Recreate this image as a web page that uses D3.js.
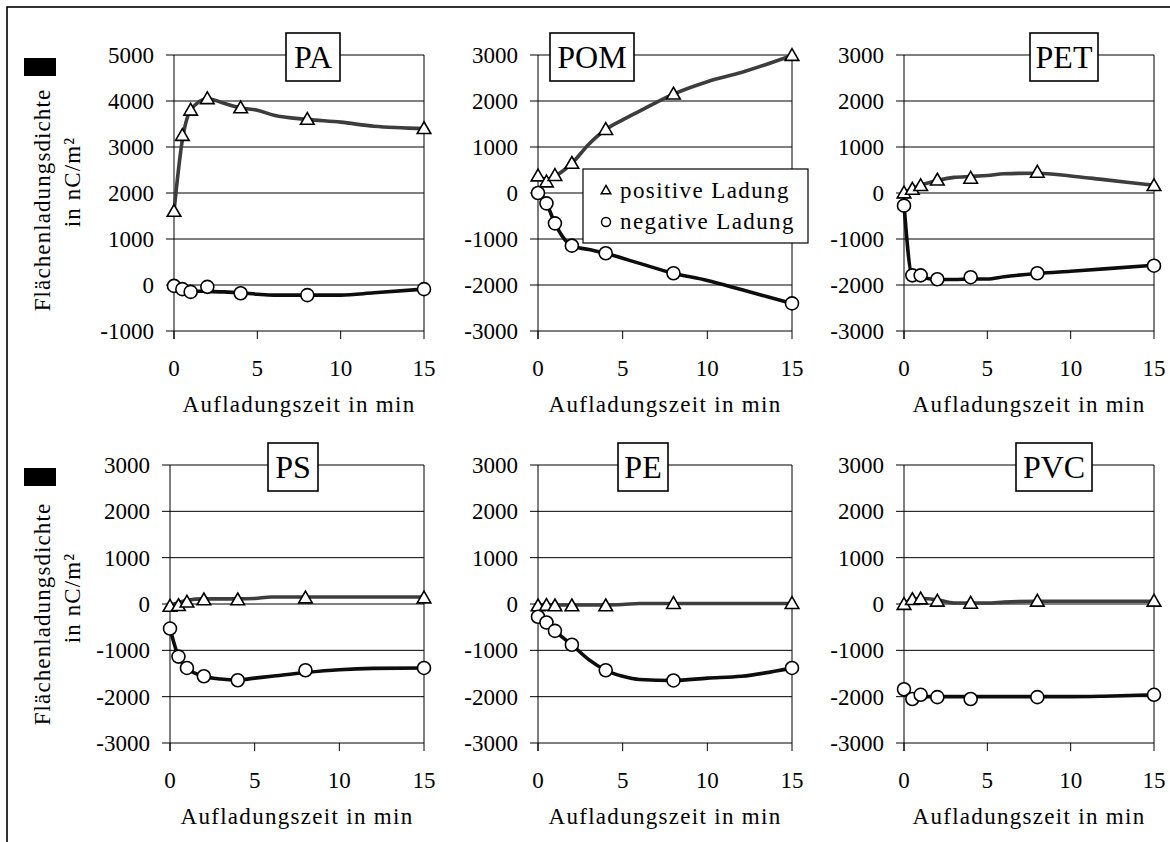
<!DOCTYPE html>
<html>
<head>
<meta charset="utf-8">
<script src="https://cdn.jsdelivr.net/npm/d3@7"></script>
<style>
  body { margin: 0; background: #fff; }
</style>
</head>
<body>
<svg id="chart" width="1170" height="842"></svg>
<script>
// Flächenladungsdichte vs. Aufladungszeit, six polymers

//// data ////
var materials = ["PA", "POM", "PET", "PS", "PE", "PVC"];
var markerTimes = [0, 0.5, 1, 2, 4, 8, 15];   // measured points (min)
var curveTimes = [0, 0.5, 1, 2, 3, 4, 5, 6, 8, 10, 12, 15]; // smoothed trend line
var xTicks = [0, 5, 10, 15];
var yTicksPA = [-1000, 0, 1000, 2000, 3000, 4000, 5000];
var yTicksOther = [-3000, -2000, -1000, 0, 1000, 2000, 3000];

// marker values, nC/m²
var posPA  = [1600, 3250, 3800, 4050, 3850, 3600, 3400];
var negPA  = [-20, -90, -150, -40, -180, -220, -90];
var posPOM = [370, 240, 380, 645, 1380, 2150, 2990];
var negPOM = [0, -225, -660, -1145, -1310, -1745, -2400];
var posPET = [0, 80, 160, 280, 320, 450, 160];
var negPET = [-275, -1790, -1790, -1875, -1830, -1745, -1580];
var posPS  = [-50, -35, 40, 90, 90, 130, 130];
var negPS  = [-530, -1135, -1380, -1560, -1645, -1430, -1380];
var posPE  = [-40, -30, -40, -40, -40, 10, 10];
var negPE  = [-275, -400, -580, -880, -1430, -1650, -1380];
var posPVC = [-10, 95, 110, 60, 15, 60, 60];
var negPVC = [-1840, -2050, -1960, -2010, -2050, -2010, -1960];

// trend lines (at curveTimes)
var curvePosPA  = [1600, 3150, 3800, 4050, 3950, 3850, 3800, 3690, 3600, 3540, 3450, 3400];
var curveNegPA  = [-20, -90, -130, -140, -150, -170, -200, -220, -220, -220, -170, -90];
var curvePosPOM = [370, 300, 370, 645, 1060, 1380, 1590, 1780, 2150, 2420, 2620, 2990];
var curveNegPOM = [0, -225, -660, -1145, -1230, -1310, -1420, -1530, -1745, -1900, -2100, -2400];
var curvePosPET = [0, 100, 170, 270, 340, 360, 380, 420, 430, 370, 290, 170];
var curveNegPET = [-250, -1800, -1830, -1880, -1880, -1870, -1870, -1820, -1750, -1700, -1650, -1570];
var curvePosPS  = [-30, 30, 80, 110, 110, 110, 120, 150, 150, 150, 150, 150];
var curveNegPS  = [-530, -1135, -1380, -1560, -1620, -1640, -1600, -1560, -1480, -1420, -1390, -1380];
var curvePosPE  = [-20, -20, -20, -20, -20, -20, -10, 10, 10, 10, 10, 10];
var curveNegPE  = [-275, -400, -580, -880, -1200, -1430, -1560, -1630, -1650, -1600, -1560, -1380];
var curvePosPVC = [0, 100, 120, 90, 20, 20, 20, 40, 60, 60, 60, 60];
var curveNegPVC = [-1900, -2000, -2000, -2000, -2000, -2000, -2000, -2000, -2000, -2000, -1990, -1960];

var legendLabels = ["positive Ladung", "negative Ladung"];
var xTitle = "Aufladungszeit in min";
var yTitle = ["Flächenladungsdichte", "in nC/m²"];

//// layout ////
var posMarkers = [posPA, posPOM, posPET, posPS, posPE, posPVC],
	negMarkers = [negPA, negPOM, negPET, negPS, negPE, negPVC],
	posCurves = [curvePosPA, curvePosPOM, curvePosPET, curvePosPS, curvePosPE, curvePosPVC],
	negCurves = [curveNegPA, curveNegPOM, curveNegPET, curveNegPS, curveNegPE, curveNegPVC];

var frames = [
	{x0: 174, x1: 424, y0: 55,  y1: 331, box: [286, 340]},
	{x0: 538, x1: 792, y0: 55,  y1: 331, box: [550, 634]},
	{x0: 904, x1: 1154, y0: 55, y1: 331, box: [1030, 1098]},
	{x0: 170, x1: 424, y0: 465, y1: 743, box: [268, 318]},
	{x0: 538, x1: 792, y0: 465, y1: 743, box: [618, 668]},
	{x0: 904, x1: 1154, y0: 465, y1: 743, box: [1016, 1092]}
];

var serif = '"Liberation Serif", "Times New Roman", serif';
var posColor = "#3d3d3d",
	negColor = "#0d0d0d",
	tickFont = 23,
	wordSpacing = 1.3;

var svg = d3.select("#chart").attr("font-family", serif);

//outer frame (right and bottom edges are cut off in the original)
svg.append("rect")
	.attr("x", 7).attr("y", 7)
	.attr("width", 1200).attr("height", 900)
	.attr("fill", "none")
	.attr("stroke", "#000")
	.attr("stroke-width", 1.6);

//black marks and y titles, one per row
[{rectY: 58, l1: 200, l2: 182}, {rectY: 468, l1: 614, l2: 598}].forEach(function(r) {
	svg.append("rect")
		.attr("x", 24).attr("y", r.rectY)
		.attr("width", 32).attr("height", 18)
		.attr("fill", "#000");
	svg.append("text")
		.attr("transform", "translate(42," + r.l1 + ") rotate(-90)")
		.attr("text-anchor", "middle")
		.attr("dy", "0.35em")
		.style("font-family", serif)
		.style("font-size", tickFont + "px")
		.style("letter-spacing", "1.1px")
		.text(yTitle[0]);
	svg.append("text")
		.attr("transform", "translate(72," + r.l2 + ") rotate(-90)")
		.attr("text-anchor", "middle")
		.attr("dy", "0.35em")
		.style("font-family", serif)
		.style("font-size", tickFont + "px")
		.style("letter-spacing", "1.1px")
		.text(yTitle[1]);
});

var triangle = d3.symbol().type(d3.symbolTriangle).size(80),
	triangleSmall = d3.symbol().type(d3.symbolTriangle).size(40);

materials.forEach(function(name, i) {
	var f = frames[i];
	var yTicks = i === 0 ? yTicksPA : yTicksOther;

	var x = d3.scaleLinear().domain([0, 15]).range([f.x0, f.x1]);
	var y = d3.scaleLinear().domain(d3.extent(yTicks)).range([f.y1, f.y0]);

	var g = svg.append("g").attr("class", "panel");

	//horizontal gridlines + outside ticks
	g.selectAll(".grid")
		.data(yTicks)
		.enter().append("line")
		.attr("x1", f.x0 - 8).attr("x2", f.x1)
		.attr("y1", function(d) { return y(d); })
		.attr("y2", function(d) { return y(d); })
		.attr("stroke", "#000")
		.attr("stroke-width", 1);

	g.selectAll(".ylab")
		.data(yTicks)
		.enter().append("text")
		.attr("x", f.x0 - 20)
		.attr("y", function(d) { return y(d); })
		.attr("dy", "0.35em")
		.attr("text-anchor", "end")
		.style("font-family", serif)
		.style("font-size", tickFont + "px")
		.text(function(d) { return d; });

	//left axis and right border
	g.append("line")
		.attr("x1", f.x0).attr("x2", f.x0)
		.attr("y1", f.y0).attr("y2", f.y1 + 8)
		.attr("stroke", "#000");
	g.append("line")
		.attr("x1", f.x1).attr("x2", f.x1)
		.attr("y1", f.y0).attr("y2", f.y1)
		.attr("stroke", "#000");

	g.selectAll(".xtick")
		.data(xTicks)
		.enter().append("line")
		.attr("x1", function(d) { return x(d); })
		.attr("x2", function(d) { return x(d); })
		.attr("y1", f.y1).attr("y2", f.y1 + 8)
		.attr("stroke", "#000");

	g.selectAll(".xlab")
		.data(xTicks)
		.enter().append("text")
		.attr("x", function(d) { return x(d); })
		.attr("y", f.y1 + 37)
		.attr("dy", "0.35em")
		.attr("text-anchor", "middle")
		.style("font-family", serif)
		.style("font-size", tickFont + "px")
		.text(function(d) { return d; });

	g.append("text")
		.attr("x", (f.x0 + f.x1) / 2)
		.attr("y", f.y1 + 73)
		.attr("dy", "0.35em")
		.attr("text-anchor", "middle")
		.style("font-family", serif)
		.style("font-size", tickFont + "px")
		.style("letter-spacing", wordSpacing + "px")
		.text(xTitle);

	//trend lines
	var line = d3.line()
		.x(function(d, k) { return x(curveTimes[k]); })
		.y(function(d) { return y(d); })
		.curve(d3.curveMonotoneX);

	g.append("path")
		.attr("d", line(posCurves[i]))
		.attr("fill", "none")
		.attr("stroke", posColor)
		.attr("stroke-width", 3.6)
		.attr("stroke-linejoin", "round");
	g.append("path")
		.attr("d", line(negCurves[i]))
		.attr("fill", "none")
		.attr("stroke", negColor)
		.attr("stroke-width", 3.6)
		.attr("stroke-linejoin", "round");

	//markers
	g.selectAll(".tri")
		.data(posMarkers[i])
		.enter().append("path")
		.attr("d", triangle)
		.attr("transform", function(d, k) { return "translate(" + x(markerTimes[k]) + "," + (y(d) + 1) + ")"; })
		.attr("fill", "#fff")
		.attr("stroke", "#000")
		.attr("stroke-width", 1.6);

	g.selectAll(".circ")
		.data(negMarkers[i])
		.enter().append("circle")
		.attr("cx", function(d, k) { return x(markerTimes[k]); })
		.attr("cy", function(d) { return y(d); })
		.attr("r", 6.5)
		.attr("fill", "#fff")
		.attr("stroke", "#000")
		.attr("stroke-width", 1.6);

	//title box
	var by0 = f.y0 - 22, by1 = f.y0 + 26;
	g.append("rect")
		.attr("x", f.box[0]).attr("y", by0)
		.attr("width", f.box[1] - f.box[0]).attr("height", by1 - by0)
		.attr("fill", "#fff")
		.attr("stroke", "#000")
		.attr("stroke-width", 1.6);
	g.append("text")
		.attr("x", (f.box[0] + f.box[1]) / 2)
		.attr("y", (by0 + by1) / 2)
		.attr("dy", "0.35em")
		.attr("text-anchor", "middle")
		.style("font-family", serif)
		.style("font-size", "32px")
		.text(name);
});

//legend inside POM panel
var legend = svg.append("g").attr("class", "legend");
legend.append("rect")
	.attr("x", 583).attr("y", 169)
	.attr("width", 225).attr("height", 74)
	.attr("fill", "#fff")
	.attr("stroke", "#000")
	.attr("stroke-width", 1.2);

legend.selectAll(".item")
	.data(legendLabels)
	.enter().append("text")
	.attr("x", 620)
	.attr("y", function(d, i) { return 190 + i * 31; })
	.attr("dy", "0.35em")
	.style("font-family", serif)
	.style("font-size", tickFont + "px")
	.style("letter-spacing", "1.4px")
	.text(function(d) { return d; });

legend.append("path")
	.attr("d", triangleSmall)
	.attr("transform", "translate(606,191)")
	.attr("fill", "#fff")
	.attr("stroke", "#000")
	.attr("stroke-width", 1.5);
legend.append("circle")
	.attr("cx", 606).attr("cy", 222)
	.attr("r", 4.5)
	.attr("fill", "#fff")
	.attr("stroke", "#000")
	.attr("stroke-width", 1.5);
</script>
</body>
</html>
